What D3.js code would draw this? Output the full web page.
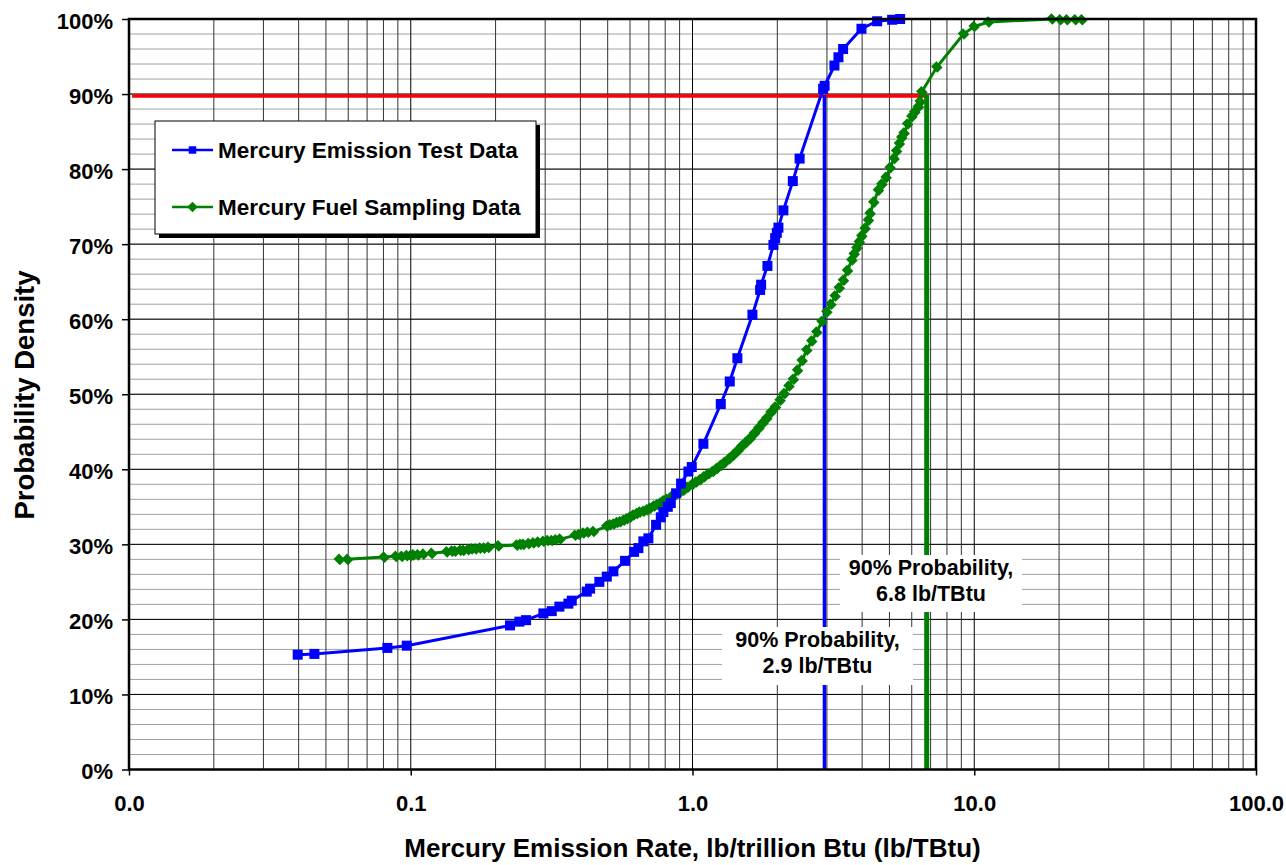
<!DOCTYPE html>
<html>
<head>
<meta charset="utf-8">
<script src="https://cdn.jsdelivr.net/npm/d3@7"></script>
<style>
  body { margin: 0; background: #fff; }
  text { font-family: "Liberation Sans", Arial, sans-serif; font-weight: bold; fill: #000; }
</style>
</head>
<body>
<div id="chart"></div>
<script>
// emission test data (lb/TBtu, cumulative %)
var testX = [0.0397, 0.0455, 0.0826, 0.0968, 0.225, 0.243, 0.2566, 0.2956, 0.3166, 0.3369,
  0.3627, 0.3728, 0.4214, 0.433, 0.4671, 0.4963, 0.5238, 0.5763, 0.6205, 0.6427,
  0.6693, 0.6973, 0.7427, 0.7718, 0.7882, 0.8171, 0.8375, 0.8745, 0.911, 0.967,
  0.994, 1.093, 1.26, 1.356, 1.443, 1.632, 1.738, 1.752, 1.845, 1.938,
  1.965, 1.992, 2.018, 2.102, 2.27, 2.40, 2.908, 2.944, 3.19, 3.296,
  3.424, 3.978, 4.522, 5.112, 5.457];
var testY = [15.3, 15.4, 16.2, 16.5, 19.2, 19.7, 19.9, 20.8, 21.1, 21.7,
  22.1, 22.5, 23.7, 24.1, 25.0, 25.7, 26.4, 27.8, 29.0, 29.5,
  30.4, 30.8, 32.6, 33.6, 34.3, 35.0, 35.5, 36.8, 38.1, 39.7,
  40.3, 43.4, 48.7, 51.7, 54.8, 60.6, 63.9, 64.6, 67.1, 69.9,
  70.8, 71.5, 72.2, 74.5, 78.4, 81.4, 90.7, 91.1, 93.8, 94.9,
  96.0, 98.7, 99.7, 99.9, 100.0];

// fuel sampling data
var fuelX = [0.0558, 0.0596, 0.0804, 0.0885, 0.0929, 0.0968, 0.100, 0.1021, 0.106, 0.1108,
  0.1187, 0.1342, 0.140, 0.1437, 0.150, 0.1537, 0.160, 0.1646, 0.170, 0.1762,
  0.182, 0.1886, 0.2046, 0.2379, 0.245, 0.2511, 0.262, 0.2724, 0.283, 0.2956,
  0.306, 0.3166, 0.327, 0.3388, 0.3831, 0.395, 0.410, 0.425, 0.4449, 0.4963,
  0.510, 0.525, 0.540, 0.5534, 0.570, 0.585, 0.600, 0.617, 0.635, 0.650,
  0.670, 0.690, 0.7071, 0.730, 0.750, 0.770, 0.790, 0.8102, 0.840, 0.870,
  0.900, 0.9284, 0.960, 1.000, 1.030, 1.064, 1.100, 1.140, 1.180, 1.220,
  1.260, 1.300, 1.350, 1.397, 1.450, 1.500, 1.550, 1.601, 1.660, 1.720,
  1.780, 1.835, 1.900, 1.970, 2.046, 2.120, 2.200, 2.281, 2.360, 2.450,
  2.545, 2.650, 2.762, 2.880, 2.998, 3.100, 3.208, 3.320, 3.434, 3.550,
  3.678, 3.750, 3.831, 3.910, 3.990, 4.100, 4.211, 4.270, 4.400, 4.571,
  4.700, 4.867, 5.030, 5.196, 5.300, 5.426, 5.530, 5.639, 5.800, 6.005,
  6.150, 6.339, 6.430, 6.517, 7.365, 9.157, 9.990, 11.23, 18.86, 20.18,
  21.32, 22.82, 24.10];
var fuelY = [28.0, 28.0, 28.3, 28.4, 28.4, 28.5, 28.5, 28.6, 28.6, 28.7,
  28.8, 29.0, 29.1, 29.1, 29.2, 29.2, 29.3, 29.4, 29.4, 29.5,
  29.5, 29.6, 29.8, 29.9, 30.0, 30.0, 30.1, 30.2, 30.3, 30.4,
  30.5, 30.5, 30.6, 30.7, 31.2, 31.3, 31.5, 31.6, 31.7, 32.4,
  32.6, 32.7, 32.9, 33.0, 33.2, 33.4, 33.6, 33.9, 34.1, 34.3,
  34.4, 34.6, 34.8, 35.1, 35.3, 35.5, 35.8, 36.0, 36.3, 36.6,
  36.9, 37.2, 37.6, 38.0, 38.3, 38.6, 39.0, 39.4, 39.7, 40.1,
  40.5, 40.9, 41.4, 41.9, 42.5, 43.1, 43.6, 44.1, 44.8, 45.5,
  46.2, 46.8, 47.6, 48.3, 49.2, 50.1, 51.1, 52.0, 53.2, 54.5,
  55.9, 57.1, 58.3, 59.7, 61.0, 62.0, 63.1, 64.2, 65.2, 66.5,
  67.9, 68.7, 69.5, 70.3, 71.1, 72.1, 73.2, 74.1, 75.6, 77.2,
  78.0, 78.9, 80.2, 81.4, 82.4, 83.4, 84.2, 84.8, 86.0, 87.0,
  87.6, 88.3, 89.0, 90.3, 93.6, 98.0, 99.0, 99.6, 100.0, 99.9,
  99.9, 99.9, 99.9];

var xTickValues = [0.01, 0.1, 1, 10, 100];
var xTickLabels = ["0.0", "0.1", "1.0", "10.0", "100.0"];
var yTickValues = [0, 10, 20, 30, 40, 50, 60, 70, 80, 90, 100];
var yMinorValues = d3.range(0, 101, 2);

var seriesNames = ["Mercury Emission Test Data", "Mercury Fuel Sampling Data"];
var seriesColors = ["#0000ff", "#008000"];

var level90 = 89.75;
var p90Test = 2.94, p90Fuel = 6.78;
var noteFuel = ["90% Probability,", "6.8 lb/TBtu"];
var noteTest = ["90% Probability,", "2.9 lb/TBtu"];

var W = 1286, H = 865;
var m = {left: 129, right: 30, top: 19, bottom: 95.5};

var svg = d3.select('#chart').append('svg')
    .attr('width', W)
    .attr('height', H);

var x = d3.scaleLog().domain([0.01, 100]).range([m.left, W - m.right]);
var y = d3.scaleLinear().domain([0, 100]).range([H - m.bottom, m.top]);

// grid
var grid = svg.append('g');
grid.selectAll('.hmin').data(yMinorValues).enter().append('line')
    .attr('x1', x(0.01)).attr('x2', x(100))
    .attr('y1', function(d){return y(d);}).attr('y2', function(d){return y(d);})
    .attr('stroke', '#a0a0a0').attr('stroke-width', 1);
grid.selectAll('.hmaj').data(yTickValues).enter().append('line')
    .attr('x1', x(0.01)).attr('x2', x(100))
    .attr('y1', function(d){return y(d);}).attr('y2', function(d){return y(d);})
    .attr('stroke', '#000').attr('stroke-width', 1);
grid.selectAll('.v').data(x.ticks()).enter().append('line')
    .attr('x1', function(d){return x(d);}).attr('x2', function(d){return x(d);})
    .attr('y1', y(0)).attr('y2', y(100))
    .attr('stroke', function(d){return xTickValues.indexOf(d) >= 0 ? '#000' : '#333';})
    .attr('stroke-width', 1);

// 90% reference lines
svg.append('line')
    .attr('x1', x(0.01) + 3).attr('x2', x(p90Fuel))
    .attr('y1', y(level90)).attr('y2', y(level90))
    .attr('stroke', '#ff0000').attr('stroke-width', 3.5);
svg.append('line')
    .attr('x1', x(p90Test)).attr('x2', x(p90Test))
    .attr('y1', y(level90) - 1).attr('y2', y(0))
    .attr('stroke', '#0000ff').attr('stroke-width', 3.5);
svg.append('line')
    .attr('x1', x(p90Fuel)).attr('x2', x(p90Fuel))
    .attr('y1', y(level90) - 1).attr('y2', y(0))
    .attr('stroke', '#008000').attr('stroke-width', 5);

// curves
var line = d3.line()
    .x(function(d){return x(d[0]);})
    .y(function(d){return y(d[1]);});

var testData = d3.zip(testX, testY);
var fuelData = d3.zip(fuelX, fuelY);

svg.append('path').datum(fuelData)
    .attr('d', line).attr('fill', 'none')
    .attr('stroke', seriesColors[1]).attr('stroke-width', 3);
svg.append('g').selectAll('path').data(fuelData).enter().append('path')
    .attr('d', d3.symbol().type(d3.symbolSquare).size(78))
    .attr('transform', function(d){return 'translate(' + x(d[0]) + ',' + y(d[1]) + ') rotate(45) scale(1,0.85)';})
    .attr('fill', seriesColors[1]);

svg.append('path').datum(testData)
    .attr('d', line).attr('fill', 'none')
    .attr('stroke', seriesColors[0]).attr('stroke-width', 3);
svg.append('g').selectAll('rect').data(testData).enter().append('rect')
    .attr('x', function(d){return x(d[0]) - 5;})
    .attr('y', function(d){return y(d[1]) - 5;})
    .attr('width', 10).attr('height', 10)
    .attr('fill', seriesColors[0]);

// annotation boxes
function note(lines, cx, top, w, h) {
    var g = svg.append('g');
    g.append('rect').attr('x', cx - w / 2).attr('y', top).attr('width', w).attr('height', h)
        .attr('fill', '#fff');
    g.selectAll('text').data(lines).enter().append('text')
        .attr('x', cx)
        .attr('y', function(d, i){return top + 20 + i * 25.5;})
        .attr('text-anchor', 'middle')
        .style('font-size', '21.5px')
        .text(function(d){return d;});
}
note(noteFuel, 931, 555, 182, 57);
note(noteTest, 817.5, 627, 191, 58);

// axes
var yAxis = d3.axisLeft(y).tickValues(yTickValues).tickSize(7).tickPadding(9)
    .tickFormat(function(d){return d + '%';});
var gy = svg.append('g').attr('transform', 'translate(' + m.left + ',0)').call(yAxis);
gy.select('.domain').remove();
gy.selectAll('.tick line').attr('stroke', '#000').attr('stroke-width', 1.5);
gy.selectAll('.tick text').style('font-size', '22px')
    .style('font-family', '"Liberation Sans", Arial, sans-serif').style('font-weight', 'bold')
    .attr('dy', '0.42em');

var xAxis = d3.axisBottom(x).tickValues(xTickValues).tickSize(6).tickPadding(20)
    .tickFormat(function(d, i){return xTickLabels[i];});
var gx = svg.append('g').attr('transform', 'translate(0,' + y(0) + ')').call(xAxis);
gx.select('.domain').remove();
gx.selectAll('.tick line').attr('stroke', '#000').attr('stroke-width', 1.5);
gx.selectAll('.tick text').style('font-size', '22px')
    .style('font-family', '"Liberation Sans", Arial, sans-serif').style('font-weight', 'bold');

// frame
svg.append('rect')
    .attr('x', x(0.01)).attr('y', y(100))
    .attr('width', x(100) - x(0.01)).attr('height', y(0) - y(100))
    .attr('fill', 'none').attr('stroke', '#000').attr('stroke-width', 2.5);

// titles
svg.append('text')
    .attr('x', (x(0.01) + x(100)) / 2).attr('y', 857)
    .attr('text-anchor', 'middle')
    .style('font-size', '26px')
    .text('Mercury Emission Rate, lb/trillion Btu (lb/TBtu)');
svg.append('text')
    .attr('transform', 'translate(34,395) rotate(-90)')
    .attr('text-anchor', 'middle')
    .style('font-size', '27.5px')
    .text('Probability Density');

// legend
var leg = svg.append('g').attr('transform', 'translate(155,121)');
leg.append('rect').attr('x', 4).attr('y', 4).attr('width', 381).attr('height', 113).attr('fill', '#000');
leg.append('rect').attr('width', 381).attr('height', 113).attr('fill', '#fff')
    .attr('stroke', '#000').attr('stroke-width', 1);
var items = leg.selectAll('.item').data(seriesNames).enter().append('g')
    .attr('transform', function(d, i){return 'translate(0,' + (29 + i * 57) + ')';});
items.append('line').attr('x1', 17).attr('x2', 58).attr('y1', 0).attr('y2', 0)
    .attr('stroke', function(d, i){return seriesColors[i];}).attr('stroke-width', 2.5);
items.append('path')
    .attr('d', d3.symbol().type(d3.symbolSquare).size(56))
    .attr('transform', function(d, i){return 'translate(37.5,0)' + (i ? ' rotate(45)' : '');})
    .attr('fill', function(d, i){return seriesColors[i];});
items.append('text').attr('x', 63).attr('y', 8)
    .style('font-size', '22.5px')
    .text(function(d){return d;});
</script>
</body>
</html>
